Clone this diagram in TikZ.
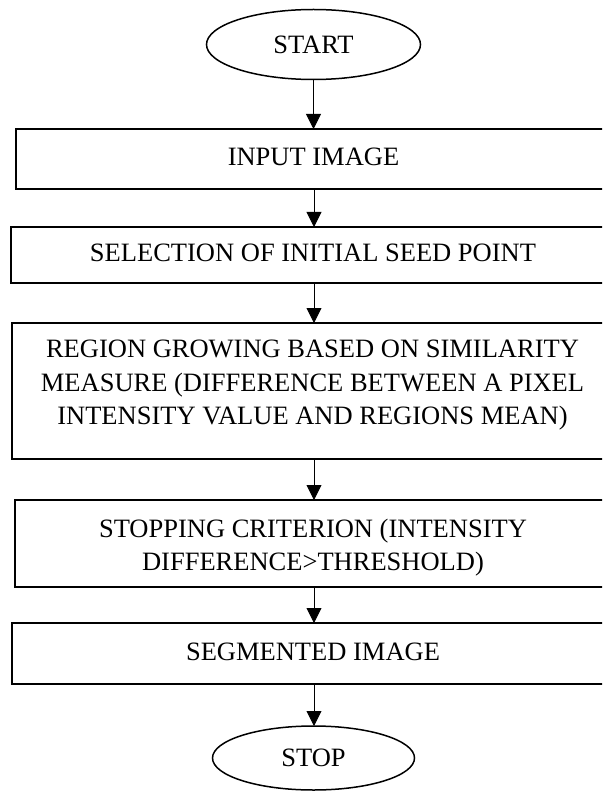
\documentclass[tikz,border=0pt]{standalone}
\usepackage{fontspec}
\setmainfont{Liberation Serif}
\usetikzlibrary{arrows.meta,shapes.geometric}
\begin{document}
\begin{tikzpicture}[x=1pt,y=-1pt,
  stepbox/.style={draw, rectangle, line width=1.6pt, inner sep=0pt, outer sep=0pt},
  oval/.style={draw, ellipse, line width=1.5pt, inner sep=0pt, outer sep=0pt,
    font=\fontsize{26.5}{33.5}\selectfont},
  boxtext/.style={font=\fontsize{26.5}{33.5}\selectfont, align=center, inner sep=0pt},
  flow/.style={-{Triangle[length=15pt,width=15pt]}, line width=0.9pt}
]
\useasboundingbox (0,0) rectangle (602,791);
\begin{scope}
\clip (0,0) rectangle (602,791);
% terminals
\node[oval, minimum width=214pt, minimum height=70pt] (start) at (313.5,44.5) {START};
\node[oval, minimum width=202pt, minimum height=64pt] (stop) at (313.5,758) {STOP};
% boxes
\node[stepbox, minimum width=596pt, minimum height=60pt] (input) at (314,159) {};
\node[stepbox, minimum width=606pt, minimum height=56pt] (select) at (314,255) {};
\node[stepbox, minimum width=604pt, minimum height=136pt] (grow) at (314,391) {};
\node[stepbox, minimum width=598pt, minimum height=87pt] (crit) at (314,543.5) {};
\node[stepbox, minimum width=604pt, minimum height=61pt] (seg) at (314,653.5) {};
% texts
\node[boxtext] (inputT) at (313.5,156.5) {INPUT IMAGE};
\node[boxtext] (selectT) at (313,253) {SELECTION OF INITIAL SEED POINT};
\node[boxtext, anchor=north] (growT) at (312.5,340) {REGION GROWING BASED ON SIMILARITY\\MEASURE (DIFFERENCE BETWEEN A PIXEL\\INTENSITY VALUE AND REGIONS MEAN)};
\node[boxtext, anchor=north] (critT) at (313,518.5) {STOPPING CRITERION (INTENSITY\\DIFFERENCE>THRESHOLD)};
\node[boxtext] (segT) at (313,651.5) {SEGMENTED IMAGE};
% connectors
\draw[flow] (start.south) -- (start.south |- input.north);
\draw[flow] (input.south) -- (select.north);
\draw[flow] (select.south) -- (grow.north);
\draw[flow] (grow.south) -- (crit.north);
\draw[flow] (crit.south) -- (seg.north);
\draw[flow] (seg.south) -- (seg.south |- stop.north);
\end{scope}
\end{tikzpicture}
\end{document}
